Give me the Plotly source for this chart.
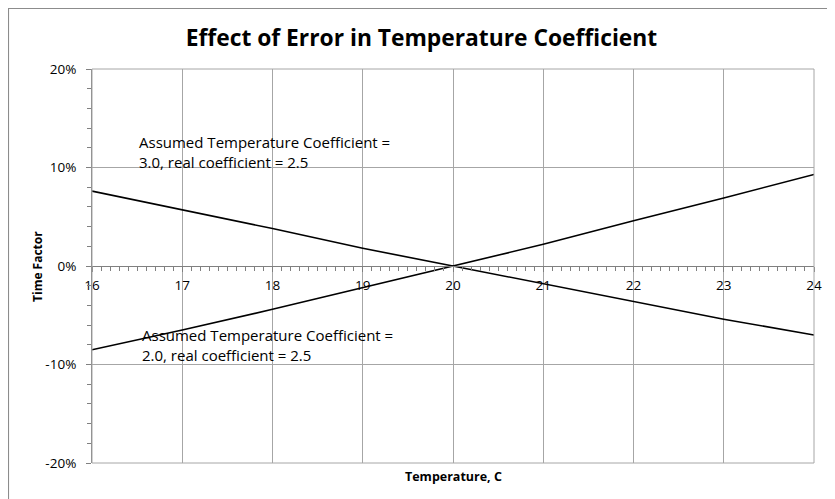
import plotly.graph_objects as go

temperature = [16, 17, 18, 19, 20, 21, 22, 23, 24]
# assumed coefficient 3.0, real 2.5
factor_assumed_3 = [0.076, 0.057, 0.038, 0.018, 0.0, -0.018, -0.036, -0.054, -0.070]
# assumed coefficient 2.0, real 2.5
factor_assumed_2 = [-0.085, -0.065, -0.044, -0.022, 0.0, 0.022, 0.046, 0.069, 0.093]

y_ticks = [-0.2, -0.1, 0.0, 0.1, 0.2]
y_tick_labels = ["-20%", "-10%", "0%", "10%", "20%"]

FONT = "Open Sans"
GRID = "#a6a6a6"

fig = go.Figure()

fig.add_trace(
    go.Scatter(
        x=temperature,
        y=factor_assumed_3,
        mode="lines",
        name="Assumed 3.0",
        line=dict(color="black", width=1.6),
    )
)

fig.add_trace(
    go.Scatter(
        x=temperature,
        y=factor_assumed_2,
        mode="lines",
        name="Assumed 2.0",
        line=dict(color="black", width=1.6),
    )
)

# page body has an 8px margin, so the figure is shrunk to fit the window
fig.update_layout(
    width=827,
    height=491,
    margin=dict(l=84, r=21, t=61, b=36),
    paper_bgcolor="white",
    plot_bgcolor="white",
    showlegend=False,
    font=dict(family=FONT, size=12, color="black"),
    title=dict(
        text="<b>Effect of Error in Temperature Coefficient</b>",
        x=0.5,
        xanchor="center",
        y=0.939,
        yanchor="middle",
        font=dict(family=FONT, size=22.8, color="black"),
    ),
    xaxis=dict(
        range=[16, 24],
        tickvals=temperature,
        showgrid=True,
        gridcolor=GRID,
        gridwidth=1,
        zeroline=False,
        showline=True,
        linecolor="#808080",
        anchor="free",
        position=0.5,
        automargin=False,
        ticks="outside",
        ticklen=5,
        tickcolor="#808080",
        ticklabelstandoff=2,
        minor=dict(dtick=0.1, ticks="outside", ticklen=4, tickcolor="#808080", showgrid=False),
        tickfont=dict(family=FONT, size=13.5),
    ),
    yaxis=dict(
        range=[-0.2, 0.2],
        tickvals=y_ticks,
        ticktext=y_tick_labels,
        showgrid=True,
        gridcolor=GRID,
        gridwidth=1,
        zeroline=False,
        showline=True,
        linecolor="#808080",
        automargin=False,
        ticks="outside",
        ticklen=5,
        tickcolor="#808080",
        ticklabelstandoff=7,
        minor=dict(dtick=0.02, ticks="outside", ticklen=4, tickcolor="#808080", showgrid=False),
        tickfont=dict(family=FONT, size=13.5),
    ),
    shapes=[
        # plot area border (top & right)
        dict(type="rect", xref="paper", yref="paper", x0=0, x1=1, y0=0, y1=1,
             line=dict(color=GRID, width=1)),
        # chart frame
        dict(type="rect", xref="paper", yref="paper", x0=-0.1157, x1=1.05, y0=-0.12, y1=1.1536,
             line=dict(color="#8c8c8c", width=1.2)),
    ],
    annotations=[
        dict(
            text="<b>Time Factor</b>",
            xref="paper", yref="paper", x=-0.0762, y=0.5, textangle=-90,
            xanchor="center", yanchor="middle", showarrow=False,
            font=dict(family=FONT, size=12),
        ),
        dict(
            text="<b>Temperature, C</b>",
            xref="paper", yref="paper", x=0.5, y=-0.033,
            xanchor="center", yanchor="middle", showarrow=False,
            font=dict(family=FONT, size=12.5),
        ),
        dict(
            text="Assumed Temperature Coefficient =<br>3.0, real coefficient = 2.5",
            xref="x", yref="y", x=16.5, y=0.1157,
            xanchor="left", yanchor="middle", align="left", showarrow=False,
            font=dict(family=FONT, size=15),
        ),
        dict(
            text="Assumed Temperature Coefficient =<br>2.0, real coefficient = 2.5",
            xref="x", yref="y", x=16.53, y=-0.0797,
            xanchor="left", yanchor="middle", align="left", showarrow=False,
            font=dict(family=FONT, size=15),
        ),
    ],
)

fig.write_html("out.html")
